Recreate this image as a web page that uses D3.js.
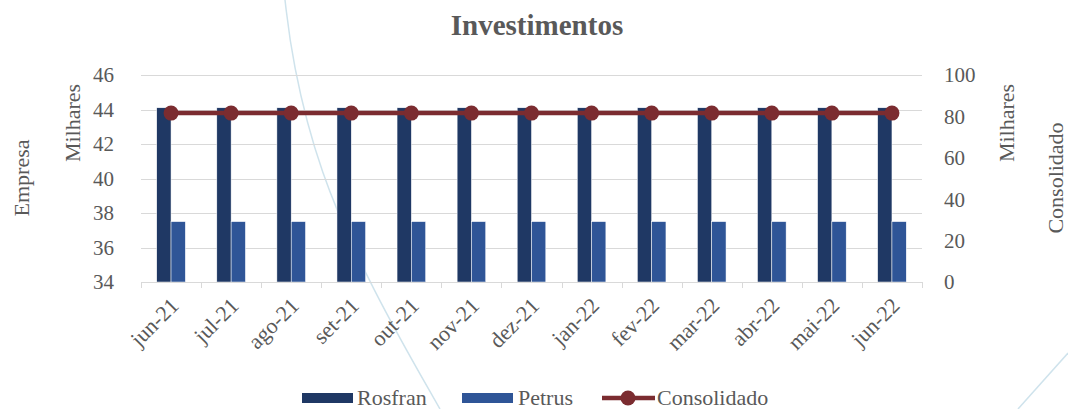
<!DOCTYPE html>
<html>
<head>
<meta charset="utf-8">
<script src="https://d3js.org/d3.v7.min.js"></script>
<style>
body { margin: 0; background: #fff; font-family: "Liberation Serif", "DejaVu Serif", serif; }
.grid line { stroke: #d9d9d9; stroke-width: 1; shape-rendering: crispEdges; }
.grid path { stroke-width: 0; }
.lbl { fill: #595959; }
</style>
</head>
<body>
<div id="chart"></div>
<script>
// data (values in thousands)
var months = ["jun-21","jul-21","ago-21","set-21","out-21","nov-21","dez-21",
              "jan-22","fev-22","mar-22","abr-22","mai-22","jun-22"];
var rosfran = [44.1,44.1,44.1,44.1,44.1,44.1,44.1,44.1,44.1,44.1,44.1,44.1,44.1];
var petrus  = [37.5,37.5,37.5,37.5,37.5,37.5,37.5,37.5,37.5,37.5,37.5,37.5,37.5];
var consolidado = [81.6,81.6,81.6,81.6,81.6,81.6,81.6,81.6,81.6,81.6,81.6,81.6,81.6];
var leftTicks = [34,36,38,40,42,44,46];
var rightTicks = [0,20,40,60,80,100];

var W = 1068, H = 409;
var margin = {top: 75, right: 146, bottom: 127, left: 141};
var width = W - margin.left - margin.right,
    height = H - margin.top - margin.bottom;

var svg = d3.select("#chart").append("svg")
    .attr("width", W).attr("height", H);

// faint decorative arcs in the background
var deco = svg.append("g").attr("fill", "none").attr("stroke", "#cfe3ec").attr("stroke-width", 1.5);
deco.append("path").attr("d", d3.line().curve(d3.curveBasis)([[285,0],[292,60],[318,170],[372,290],[440,409]]));
deco.append("path").attr("d", d3.line()([[1068,353],[1018,409]]));

var g = svg.append("g").attr("transform", "translate(" + margin.left + "," + margin.top + ")");

var x = d3.scaleBand().domain(months).range([0, width]);
var yL = d3.scaleLinear().domain([34, 46]).range([height, 0]);
var yR = d3.scaleLinear().domain([0, 100]).range([height, 0]);

// gridlines
g.append("g").attr("class", "grid")
  .call(d3.axisLeft(yL).tickValues(leftTicks).tickSize(-width).tickFormat(""));

// bars
var bw = x.bandwidth() * 0.238;
g.selectAll(".ros").data(months).enter().append("rect")
  .attr("x", function(d) { return x(d) + x.bandwidth() / 2 - bw; })
  .attr("y", function(d, i) { return yL(rosfran[i]); })
  .attr("width", bw)
  .attr("height", function(d, i) { return height - yL(rosfran[i]); })
  .attr("fill", "#1f3864").attr("stroke", "#fff").attr("stroke-width", 0.5);
g.selectAll(".pet").data(months).enter().append("rect")
  .attr("x", function(d) { return x(d) + x.bandwidth() / 2; })
  .attr("y", function(d, i) { return yL(petrus[i]); })
  .attr("width", bw)
  .attr("height", function(d, i) { return height - yL(petrus[i]); })
  .attr("fill", "#2f5597").attr("stroke", "#fff").attr("stroke-width", 0.5);

// x axis
var xa = g.append("g").attr("transform", "translate(0," + height + ")");
xa.append("line").attr("x1", 0).attr("x2", width).attr("y1", 0.5).attr("y2", 0.5)
  .attr("stroke", "#d9d9d9");
xa.selectAll(".tk").data(d3.range(months.length + 1)).enter().append("line")
  .attr("x1", function(i) { return Math.round(i * x.step()) + 0.5; })
  .attr("x2", function(i) { return Math.round(i * x.step()) + 0.5; })
  .attr("y1", 0).attr("y2", 6).attr("stroke", "#d9d9d9");
xa.selectAll(".xl").data(months).enter().append("text")
  .attr("class", "lbl")
  .attr("transform", function(d) {
    return "translate(" + (x(d) + x.bandwidth() / 2 + 9) + ",25) rotate(-45)";
  })
  .attr("text-anchor", "end")
  .style("font-size", "22px")
  .text(function(d) { return d; });

// consolidated line
var line = d3.line()
  .x(function(d, i) { return x(months[i]) + x.bandwidth() / 2; })
  .y(function(d) { return yR(d); });
g.append("path").datum(consolidado).attr("d", line)
  .attr("fill", "none").attr("stroke", "#7b2c30").attr("stroke-width", 4.5);
g.selectAll(".dot").data(consolidado).enter().append("circle")
  .attr("cx", function(d, i) { return x(months[i]) + x.bandwidth() / 2; })
  .attr("cy", function(d) { return yR(d); })
  .attr("r", 7.5).attr("fill", "#7b2c30");

// y axes labels
g.selectAll(".yl").data(leftTicks).enter().append("text")
  .attr("class", "lbl").attr("x", -27).attr("y", function(d) { return yL(d); })
  .attr("dy", "0.35em").attr("text-anchor", "end").style("font-size", "21px")
  .text(function(d) { return d; });
g.selectAll(".yr").data(rightTicks).enter().append("text")
  .attr("class", "lbl").attr("x", width + 22).attr("y", function(d) { return yR(d); })
  .attr("dy", "0.35em").attr("text-anchor", "start").style("font-size", "21px")
  .text(function(d) { return d; });

// axis titles
function vtext(cx, cy, t) {
  svg.append("text").attr("class", "lbl")
    .attr("transform", "translate(" + cx + "," + cy + ") rotate(-90)")
    .attr("text-anchor", "middle").attr("dy", "0.35em")
    .style("font-size", "22px").text(t);
}
vtext(21, 178, "Empresa");
vtext(72, 123, "Milhares");
vtext(1006, 123, "Milhares");
vtext(1055, 178, "Consolidado");

// title
svg.append("text").attr("x", 537).attr("y", 35).attr("text-anchor", "middle")
  .attr("fill", "#595959").style("font-size", "29px").style("font-weight", "bold")
  .text("Investimentos");

// legend
var lg = svg.append("g").attr("transform", "translate(0,398)");
lg.append("rect").attr("x", 302).attr("y", -5).attr("width", 51).attr("height", 10).attr("fill", "#1f3864");
lg.append("text").attr("class", "lbl").attr("x", 357).attr("dy", "0.33em").style("font-size", "22px").text("Rosfran");
lg.append("rect").attr("x", 462).attr("y", -5).attr("width", 51).attr("height", 10).attr("fill", "#2f5597");
lg.append("text").attr("class", "lbl").attr("x", 518).attr("dy", "0.33em").style("font-size", "22px").text("Petrus");
lg.append("line").attr("x1", 602).attr("x2", 655).attr("stroke", "#7b2c30").attr("stroke-width", 4.5);
lg.append("circle").attr("cx", 628).attr("r", 7.5).attr("fill", "#7b2c30");
lg.append("text").attr("class", "lbl").attr("x", 657).attr("dy", "0.33em").style("font-size", "22px").text("Consolidado");
</script>
</body>
</html>
